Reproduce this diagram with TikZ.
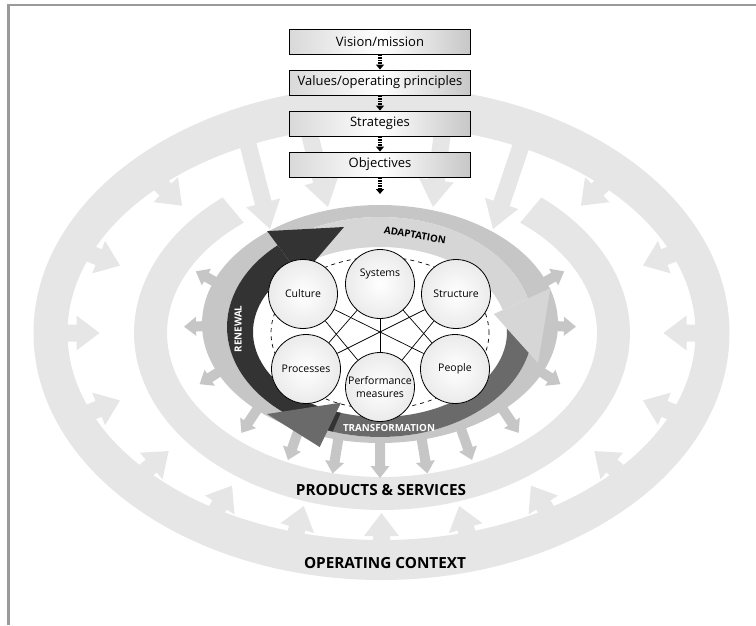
\documentclass[tikz,border=0pt]{standalone}
\usepackage{fontspec}
\setmainfont{Open Sans}
\usepackage{tikz}
\usetikzlibrary{calc, arrows.meta, shadows}

\definecolor{bandgray}{HTML}{E6E6E6}
\definecolor{ringgray}{HTML}{C6C6C6}
\definecolor{adaptgray}{HTML}{D6D6D6}
\definecolor{renewgray}{HTML}{333333}
\definecolor{transgray}{HTML}{6A6A6A}
\definecolor{framegray}{HTML}{9A9A9A}

\tikzstyle{stage} = [rectangle, minimum width=181pt, minimum height=25pt, inner sep=0pt, draw=black, line width=0.9pt, left color=black!15, right color=black!22, middle color=white, font=\fontsize{13}{15}\selectfont, drop shadow={shadow xshift=0.7pt, shadow yshift=-0.7pt, fill=black!55}]
\tikzstyle{element} = [circle, minimum size=69pt, inner sep=0pt, draw=black, line width=0.8pt, inner color=white, outer color=black!8, align=center, font=\fontsize{10.5}{12.5}\selectfont]
\tikzstyle{flow} = [line width=3.4pt, dash pattern=on 1.5pt off 1.1pt, -{Triangle[width=8pt,length=5pt]}]
\tikzstyle{link} = [line width=0.7pt]
\tikzstyle{cyclelabel} = [font=\fontsize{9.8}{11}\selectfont\bfseries, inner sep=0pt]
\tikzstyle{ringlabel} = [font=\fontsize{15.3}{17}\selectfont\bfseries, inner sep=0pt]

% block arrow: colour, start, tip, half shaft, half head, head length
\newcommand{\blockarrow}[6]{%
  \coordinate (ba-s) at #2;
  \coordinate (ba-t) at #3;
  \coordinate (ba-h) at ($(ba-t)!#6!(ba-s)$);
  \fill [#1] ($(ba-s)!#4!90:(ba-t)$) -- ($(ba-h)!#4!-90:(ba-s)$) -- ($(ba-h)!#5!-90:(ba-s)$)
    -- (ba-t) -- ($(ba-h)!#5!90:(ba-s)$) -- ($(ba-h)!#4!90:(ba-s)$) -- ($(ba-s)!#4!-90:(ba-t)$) -- cycle;
}

\begin{document}
\begin{tikzpicture}[x=1pt, y=-1pt, node distance=41pt]
\useasboundingbox (0,0) rectangle (756,625);

\draw [framegray, line width=2.2pt] (756,5) -- (8.5,5) -- (8.5,625);

% outer band and its arrows
\fill [bandgray, even odd rule] (381.5,333) ellipse [x radius=348pt, y radius=247pt]
  (381.5,333) ellipse [x radius=314pt, y radius=207pt];
\foreach \t in {-45,-22,0,22,41,58,74,90,106,122,139,158,180,202,225} {
  \blockarrow{bandgray}{({381.5+330*cos(\t)},{333+227*sin(\t)})}{({381.5+282*cos(\t)},{333+180*sin(\t)})}{8.5pt}{17.5pt}{23pt}
}
\blockarrow{bandgray}{(243,125)}{(270,229)}{8.5pt}{17.5pt}{27pt}
\blockarrow{bandgray}{(308,128)}{(328,207)}{8.5pt}{17.5pt}{27pt}
\blockarrow{bandgray}{(443,128)}{(433,207)}{8.5pt}{17.5pt}{27pt}
\blockarrow{bandgray}{(528,125)}{(493,229)}{8.5pt}{17.5pt}{27pt}

% middle band, open at the top
\fill [bandgray] plot [domain=-50:230, samples=120] ({382+248*cos(\x)},{333+177*sin(\x)})
  -- plot [domain=230:-50, samples=120] ({382+215*cos(\x)},{333+144*sin(\x)}) -- cycle;

% inner ring with outward arrows
\foreach \t in {-20,1,23,45,62,76,90,104,118,135,157,179,200} {
  \blockarrow{ringgray}{({380+168*cos(\t)},{324+112*sin(\t)})}{({380+196*cos(\t)},{324+154*sin(\t)})}{5pt}{9.5pt}{12pt}
}
\fill [ringgray, even odd rule] (380,324) ellipse [x radius=178pt, y radius=119pt]
  (380,327) ellipse [x radius=153pt, y radius=110pt];

% cycle arrows
\fill [adaptgray] plot [domain=240:345, samples=50] ({380+153*cos(\x)},{327+110*sin(\x)})
  -- plot [domain=345:240, samples=50] ({380+127*cos(\x)},{332+85*sin(\x)}) -- cycle;
\fill [transgray] plot [domain=350:470, samples=50] ({380+153*cos(\x)},{327+110*sin(\x)})
  -- plot [domain=470:350, samples=50] ({380+127*cos(\x)},{332+85*sin(\x)}) -- cycle;
\fill [renewgray] plot [domain=108:228, samples=50] ({380+153*cos(\x)},{327+110*sin(\x)})
  -- plot [domain=228:108, samples=50] ({380+127*cos(\x)},{332+85*sin(\x)}) -- cycle;

\coordinate (ren-o) at ({380+153*cos(228)},{327+110*sin(228)});
\coordinate (ren-i) at ({380+127*cos(228)},{332+85*sin(228)});
\coordinate (ada-o) at ({380+153*cos(345)},{327+110*sin(345)});
\coordinate (ada-i) at ({380+127*cos(345)},{332+85*sin(345)});
\coordinate (tra-o) at ({380+153*cos(470)},{327+110*sin(470)});
\coordinate (tra-i) at ({380+127*cos(470)},{332+85*sin(470)});
\fill [transgray] ($(tra-i)!1.9!(tra-o)$) -- (267,414) -- ($(tra-o)!1.5!(tra-i)$) -- cycle;
\fill [renewgray] ($(ren-i)!1.6!(ren-o)$) -- (344,227) -- ($(ren-o)!1.35!(ren-i)$) -- cycle;
\fill [adaptgray] ($(ada-i)!1.9!(ada-o)$) -- (538,363) -- ($(ada-o)!1.35!(ada-i)$) -- cycle;

\node (renewal) [cyclelabel, text=white, rotate=90] at (238,329) {RENEWAL};
\node (adaptation) [cyclelabel, rotate=-10] at (415,235) {ADAPTATION};
\node (transformation) [cyclelabel, text=white] at (389,428) {TRANSFORMATION};

% the six elements
\draw [dashed, line width=0.7pt, dash pattern=on 4pt off 4pt] (380,333) ellipse [x radius=109pt, y radius=76pt];
\node (systems) [element] at (380,284) {\raisebox{8pt}[0pt][0pt]{Systems}};
\node (culture) [element] at (303,294) {Culture};
\node (structure) [element] at (456,294) {Structure};
\node (processes) [element] at (306,369) {Processes};
\node (people) [element] at (455,369) {People};
\node (measures) [element] at (380,387) {Performance\\measures};

\draw [link] (systems) -- (measures);
\draw [link] (culture) -- (people);
\draw [link] (structure) -- (processes);
\draw [link] (systems) -- (processes);
\draw [link] (systems) -- (people);
\draw [link] (culture) -- (measures);
\draw [link] (structure) -- (measures);

% direction setting
\node (vision) [stage] at (380,41.5) {Vision/mission};
\node (values) [stage, below of=vision] {Values/operating principles};
\node (strategies) [stage, below of=values] {Strategies};
\node (objectives) [stage, below of=strategies] {Objectives};
\coordinate (focus) at (380,194);

\draw [flow] (vision) -- (values);
\draw [flow] (values) -- (strategies);
\draw [flow] (strategies) -- (objectives);
\draw [flow] (objectives) -- (focus);

\node (products) [ringlabel] at (381,490) {PRODUCTS \& SERVICES};
\node (context) [ringlabel] at (385,563) {OPERATING CONTEXT};

\end{tikzpicture}
\end{document}
